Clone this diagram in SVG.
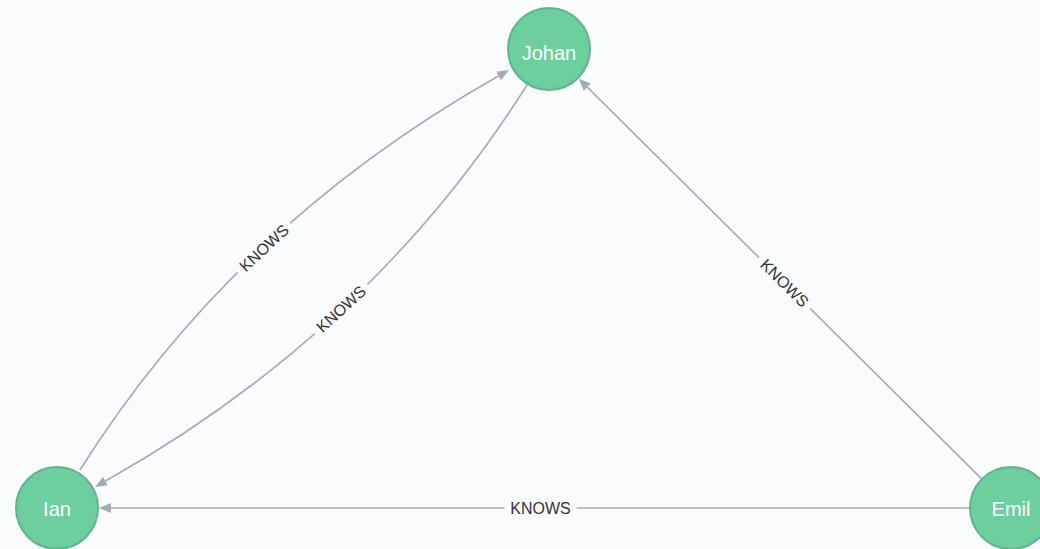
<svg xmlns="http://www.w3.org/2000/svg" width="1040" height="549" viewBox="0 0 1040 549">
  <style>
    .bg { fill: #f9fbfd; }
    .rel { fill: none; stroke: #a5abb6; stroke-width: 1.6; }
    .rel-label { font-family: "Liberation Sans", Arial, sans-serif; font-size: 16px; fill: #333333; text-anchor: middle; }
    .gap { fill: #f9fbfd; }
    .node circle { fill: #6dce9e; stroke: #60b58b; stroke-width: 2; }
    .node text { font-family: "Liberation Sans", Arial, sans-serif; font-size: 20px; fill: #ffffff; text-anchor: middle; }
  </style>
  <defs>
    <marker id="arrow" markerUnits="userSpaceOnUse" markerWidth="14" markerHeight="12" refX="0" refY="6" orient="auto" viewBox="0 0 14 12">
      <path d="M0,1 L12,6 L0,11 Z" fill="#a5abb6"/>
    </marker>
  </defs>

  <rect class="bg" x="0" y="0" width="1040" height="549"/>

  <g id="connectors">
    <!-- Ian -> Johan (curved, upper) -->
    <g id="rel-ian-johan">
      <path class="rel" d="M80,470 Q233,226 498.5,76" marker-end="url(#arrow)"/>
      <g transform="translate(264,248) rotate(-43)">
        <rect class="gap" x="-36" y="-4" width="72" height="8"/>
        <text class="rel-label" x="0" y="0" dy="0.35em">KNOWS</text>
      </g>
    </g>
    <!-- Johan -> Ian (curved, lower) -->
    <g id="rel-johan-ian">
      <path class="rel" d="M527,85 Q372,331 105.5,481" marker-end="url(#arrow)"/>
      <g transform="translate(341,309) rotate(-42.5)">
        <rect class="gap" x="-36" y="-4" width="72" height="8"/>
        <text class="rel-label" x="0" y="0" dy="0.35em">KNOWS</text>
      </g>
    </g>
    <!-- Emil -> Johan -->
    <g id="rel-emil-johan">
      <path class="rel" d="M981.9,479.1 L587.3,87.1" marker-end="url(#arrow)"/>
      <g transform="translate(784.6,283.1) rotate(44.8)">
        <rect class="gap" x="-36" y="-4" width="72" height="8"/>
        <text class="rel-label" x="0" y="0" dy="0.35em">KNOWS</text>
      </g>
    </g>
    <!-- Emil -> Ian -->
    <g id="rel-emil-ian">
      <path class="rel" d="M970,508 L111,508" marker-end="url(#arrow)"/>
      <g transform="translate(540.5,508)">
        <rect class="gap" x="-36" y="-4" width="72" height="8"/>
        <text class="rel-label" x="0" y="0" dy="0.35em">KNOWS</text>
      </g>
    </g>
  </g>

  <g id="node-johan" class="node">
    <circle cx="549" cy="49" r="41"/>
    <text x="549" y="60">Johan</text>
  </g>
  <g id="node-ian" class="node">
    <circle cx="57" cy="508" r="41"/>
    <text x="57" y="516">Ian</text>
  </g>
  <g id="node-emil" class="node">
    <circle cx="1011" cy="508" r="41"/>
    <text x="1011" y="516">Emil</text>
  </g>
</svg>
